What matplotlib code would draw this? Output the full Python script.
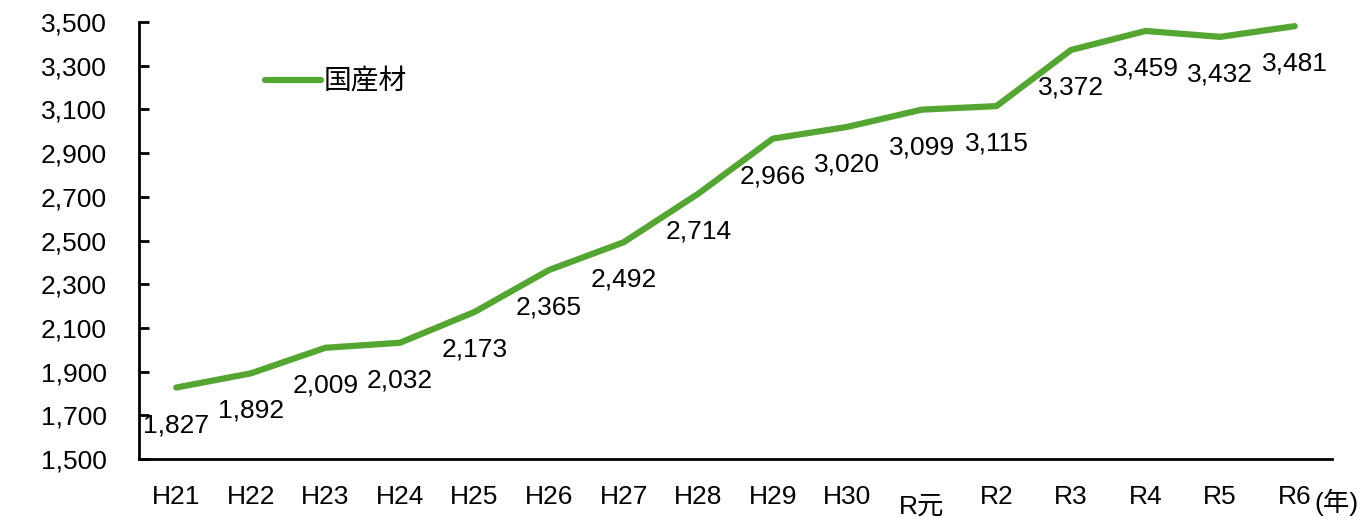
import matplotlib
matplotlib.use("Agg")
import matplotlib.pyplot as plt

plt.rcParams['font.family'] = ['Liberation Sans', 'Noto Sans CJK JP', 'DejaVu Sans']

years = ['H21', 'H22', 'H23', 'H24', 'H25', 'H26', 'H27', 'H28', 'H29', 'H30',
         'R元', 'R2', 'R3', 'R4', 'R5', 'R6']
domestic = [1827, 1892, 2009, 2032, 2173, 2365, 2492, 2714, 2966, 3020,
            3099, 3115, 3372, 3459, 3432, 3481]
yticks = list(range(1500, 3501, 200))

green = '#55A532'
fs = 19

fig = plt.figure(figsize=(13.63, 5.19), dpi=100)
ax = fig.add_axes([139 / 1363, 1 - 459 / 519, (1332 - 139) / 1363, (459 - 22) / 519])

x = list(range(len(years)))
ax.plot(x, domestic, color=green, lw=4.5, solid_capstyle='round', label='国産材')

for xi, v in zip(x, domestic):
    ax.annotate(f'{v:,}', (xi, v), xytext=(0, -27), textcoords='offset points',
                ha='center', va='center', fontsize=fs)

ax.set_xlim(-0.5, len(years) - 0.5)
ax.set_ylim(1500, 3500)
ax.set_yticks(yticks)
ax.set_yticklabels([f'{t:,}' for t in yticks], fontsize=fs)
ax.set_xticks(x)
ax.set_xticklabels(years, fontsize=fs)
ax.tick_params(axis='y', direction='in', length=7, width=2, pad=23)
ax.tick_params(axis='x', length=0, pad=19)
for lbl in ax.get_xticklabels():
    if lbl.get_text() == 'R元':
        lbl.set_y(-0.02)

for s in ['top', 'right']:
    ax.spines[s].set_visible(False)
for s in ['left', 'bottom']:
    ax.spines[s].set_linewidth(2)

# unit label sits just right of the last category
ax.annotate('(年)', (len(years) - 1, 0), xycoords=('data', 'axes fraction'),
            xytext=(14, -31), textcoords='offset points', ha='left', va='center',
            fontsize=fs)

ax.legend(loc='upper left', bbox_to_anchor=(0.085, 0.955), frameon=False,
          handlelength=2.0, handletextpad=0.1,
          prop={'family': ['Noto Sans CJK JP'], 'size': 20})

fig.savefig('out.png', dpi=100)
